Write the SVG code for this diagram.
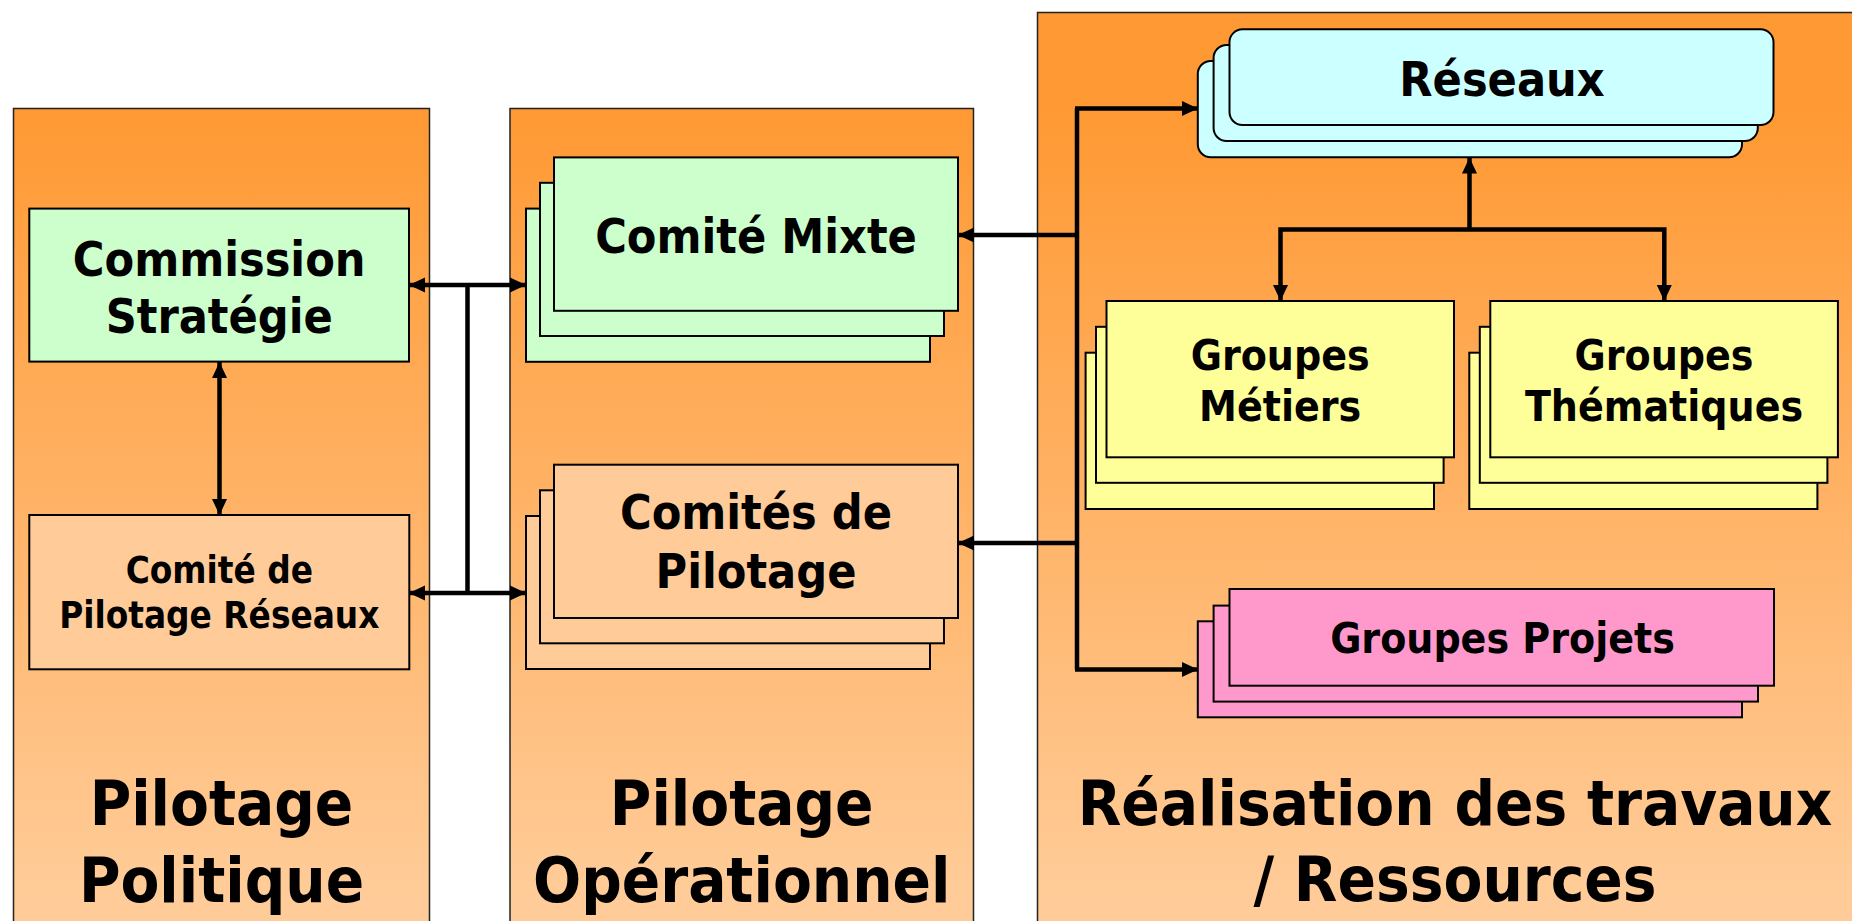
<svg xmlns="http://www.w3.org/2000/svg" width="1852" height="921" viewBox="0 0 1852 921">
<defs>
<linearGradient id="panelGrad" gradientUnits="userSpaceOnUse" x1="0" y1="110" x2="0" y2="900">
<stop offset="0" stop-color="#FF9933"/>
<stop offset="1" stop-color="#FFCC99"/>
</linearGradient>
<marker id="arr" markerUnits="userSpaceOnUse" markerWidth="17" markerHeight="16" refX="16" refY="8" orient="auto-start-reverse" viewBox="0 0 17 16">
<path d="M0,0.5 L16,8 L0,15.5 z" fill="#000"/>
</marker>
<style>
.panel{fill:url(#panelGrad);stroke:#222;stroke-width:1.5}
.box{stroke:#000;stroke-width:2}
.green{fill:#CCFFCC}
.peach{fill:#FFCC99}
.cyan{fill:#CCFFFF}
.yellow{fill:#FFFF99}
.pink{fill:#FF99CC}
text{font-family:"DejaVu Sans Condensed","DejaVu Sans",sans-serif;font-stretch:condensed;font-weight:bold;fill:#000;text-anchor:middle}
.t62{font-size:63px}
.t47{font-size:48px}
.t42{font-size:42.3px}
.t36{font-size:36.5px}
.conn{fill:none;stroke:#000;stroke-width:4.5}
</style>
</defs>
<rect width="1852" height="921" fill="#FFFFFF"/>

<g id="panel-politique">
<rect class="panel" x="13.5" y="108.5" width="416" height="830"/>
<text class="t62" x="221.5" y="825">Pilotage</text>
<text class="t62" x="221.5" y="901.5">Politique</text>
</g>
<g id="panel-operationnel">
<rect class="panel" x="510" y="108.5" width="463.5" height="830"/>
<text class="t62" x="741.7" y="825">Pilotage</text>
<text class="t62" x="741.7" y="901.5">Opérationnel</text>
</g>
<g id="panel-realisation">
<rect class="panel" x="1037.5" y="12.5" width="830" height="930"/>
<text class="t62" x="1455" y="825">Réalisation des travaux</text>
<text class="t62" x="1455" y="901">/ Ressources</text>
</g>

<g id="connectors">
<line class="conn" x1="219.5" y1="362" x2="219.5" y2="515" marker-start="url(#arr)" marker-end="url(#arr)"/>
<line class="conn" x1="409" y1="285" x2="526" y2="285" marker-start="url(#arr)" marker-end="url(#arr)"/>
<line class="conn" x1="409" y1="593" x2="526" y2="593" marker-start="url(#arr)" marker-end="url(#arr)"/>
<line class="conn" x1="467.5" y1="285" x2="467.5" y2="593"/>
<polyline class="conn" points="1077,669.5 1077,108.5"/>
<line class="conn" x1="1075" y1="108.5" x2="1198" y2="108.5" marker-end="url(#arr)"/>
<line class="conn" x1="1075" y1="669.5" x2="1198" y2="669.5" marker-end="url(#arr)"/>
<line class="conn" x1="1077" y1="235" x2="958" y2="235" marker-end="url(#arr)"/>
<line class="conn" x1="1077" y1="543" x2="958" y2="543" marker-end="url(#arr)"/>
<line class="conn" x1="1469.5" y1="231" x2="1469.5" y2="157.5" marker-end="url(#arr)"/>
<polyline class="conn" points="1280.5,301 1280.5,229.5 1664.3,229.5 1664.3,301" marker-start="url(#arr)" marker-end="url(#arr)"/>
</g>

<g id="commission-strategie">
<rect class="box green" x="29.3" y="208.6" width="379.7" height="153"/>
<text class="t47" x="219.2" y="275.6">Commission</text>
<text class="t47" x="219.2" y="333">Stratégie</text>
</g>
<g id="comite-pilotage-reseaux">
<rect class="box peach" x="29.3" y="515" width="380" height="154.3"/>
<text class="t36" x="219.3" y="583.3">Comité de</text>
<text class="t36" x="219.3" y="628.3">Pilotage Réseaux</text>
</g>

<g id="comite-mixte">
<rect class="box green" x="526" y="208.6" width="404" height="153.2"/>
<rect class="box green" x="540" y="182.8" width="404" height="153.2"/>
<rect class="box green" x="554" y="157.4" width="404" height="153.4"/>
<text class="t47" x="756" y="252.6">Comité Mixte</text>
</g>
<g id="comites-pilotage">
<rect class="box peach" x="526" y="516" width="404" height="153"/>
<rect class="box peach" x="540" y="490.3" width="404" height="153"/>
<rect class="box peach" x="554" y="464.7" width="404" height="153.3"/>
<text class="t47" x="756" y="529">Comités de</text>
<text class="t47" x="756" y="588">Pilotage</text>
</g>

<g id="reseaux">
<rect class="box cyan" x="1197.8" y="61" width="544.2" height="96.3" rx="13"/>
<rect class="box cyan" x="1213.6" y="45" width="544.2" height="96" rx="13"/>
<rect class="box cyan" x="1229.5" y="29.3" width="544" height="95.7" rx="13"/>
<text class="t47" x="1502" y="96">Réseaux</text>
</g>
<g id="groupes-metiers">
<rect class="box yellow" x="1085.6" y="352.7" width="348.4" height="156.3"/>
<rect class="box yellow" x="1096" y="326.8" width="347.6" height="156"/>
<rect class="box yellow" x="1106.5" y="301" width="347.5" height="156.3"/>
<text class="t42" x="1280.2" y="370">Groupes</text>
<text class="t42" x="1280.2" y="420.7">Métiers</text>
</g>
<g id="groupes-thematiques">
<rect class="box yellow" x="1469.3" y="352.7" width="348.1" height="156.3"/>
<rect class="box yellow" x="1479.8" y="326.8" width="347.6" height="156"/>
<rect class="box yellow" x="1490.3" y="301" width="347.6" height="156.3"/>
<text class="t42" x="1664" y="370">Groupes</text>
<text class="t42" x="1664" y="420.7">Thématiques</text>
</g>
<g id="groupes-projets">
<rect class="box pink" x="1197.8" y="621.3" width="544.2" height="96"/>
<rect class="box pink" x="1213.6" y="605.6" width="544.4" height="96"/>
<rect class="box pink" x="1229.5" y="589" width="544.5" height="96.7"/>
<text class="t42" x="1502.5" y="653.3">Groupes Projets</text>
</g>
</svg>
